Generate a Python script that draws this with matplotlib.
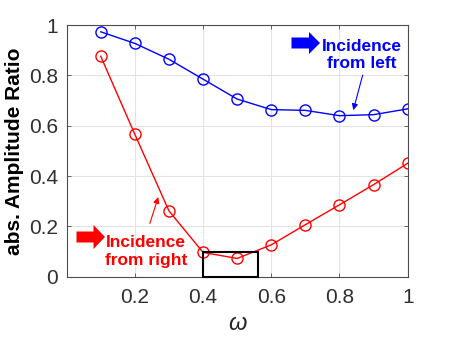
import numpy as np
import matplotlib.pyplot as plt
from matplotlib.patches import Rectangle, Polygon

plt.rcParams['font.family'] = ['Liberation Sans', 'DejaVu Sans']

omega = [0.1, 0.2, 0.3, 0.4, 0.5, 0.6, 0.7, 0.8, 0.9, 1.0]
ratio_left = [0.973, 0.927, 0.864, 0.785, 0.706, 0.664, 0.661, 0.640, 0.644, 0.667]
ratio_right = [0.876, 0.566, 0.262, 0.097, 0.073, 0.127, 0.207, 0.286, 0.366, 0.451]

xticks = [0.2, 0.4, 0.6, 0.8, 1.0]
xticklabels = ['0.2', '0.4', '0.6', '0.8', '1']
yticks = [0, 0.2, 0.4, 0.6, 0.8, 1.0]
yticklabels = ['0', '0.2', '0.4', '0.6', '0.8', '1']


def block_arrow(fig, x0, x1, yc, shaft, head, headlen, color):
    # grube strzałki przy podpisach, w pikselach figury
    W, H = fig.get_size_inches() * fig.dpi
    xh = x1 - headlen
    pts = [(x0, yc - shaft), (xh, yc - shaft), (xh, yc - head), (x1, yc),
           (xh, yc + head), (xh, yc + shaft), (x0, yc + shaft)]
    pts = [(x / W, 1 - y / H) for x, y in pts]
    fig.patches.append(Polygon(pts, closed=True, transform=fig.transFigure,
                               facecolor=color, edgecolor='none'))


fig = plt.figure(figsize=(4.5, 3.38), dpi=100)
ax = fig.add_axes([0.148, 0.181, 0.758, 0.745])

ax.plot(omega, ratio_left, 'o-', color='blue', lw=1.0, ms=8,
        mfc='none', mew=1.0)
ax.plot(omega, ratio_right, 'o-', color='red', lw=1.0, ms=8,
        mfc='none', mew=1.0)

ax.add_patch(Rectangle((0.4, 0), 0.16, 0.1, fill=False, edgecolor='black',
                       lw=1.5, zorder=5, clip_on=False))

ax.set_xlim(0, 1)
ax.set_ylim(0, 1)
ax.set_xticks(xticks)
ax.set_xticklabels(xticklabels)
ax.set_yticks(yticks)
ax.set_yticklabels(yticklabels)
ax.tick_params(direction='in', length=3, width=0.6, colors='#4d4d4d',
               labelcolor='#303030', labelsize=15, top=True, right=True)
ax.tick_params(axis='x', pad=8)
ax.tick_params(axis='y', pad=6)
for s in ax.spines.values():
    s.set_color('#4d4d4d')
    s.set_linewidth(0.8)
ax.grid(True, color='#e3e3e3', lw=0.8)
ax.set_axisbelow(True)

ax.set_ylabel('abs. Amplitude Ratio', fontsize=15, fontweight='bold',
              labelpad=4)
ax.set_xlabel('ω', fontsize=17, fontstyle='italic', labelpad=4,
              color='#262626')

# podpisy i strzałki
ax.text(0.865, 0.88, 'Incidence\nfrom left', color='blue', fontsize=12.5,
        fontweight='bold', ha='center', va='center', multialignment='center')
ax.annotate('', xy=(0.8405, 0.662), xytext=(0.868, 0.801),
            arrowprops=dict(arrowstyle='-|>', color='blue', lw=0.8,
                            mutation_scale=9, shrinkA=0, shrinkB=0))
ax.text(0.2325, 0.10, 'Incidence\nfrom right', color='red', fontsize=12.5,
        fontweight='bold', ha='center', va='center', multialignment='center')
ax.annotate('', xy=(0.2687, 0.317), xytext=(0.244, 0.212),
            arrowprops=dict(arrowstyle='-|>', color='red', lw=0.8,
                            mutation_scale=9, shrinkA=0, shrinkB=0))

block_arrow(fig, 291.5, 320, 43, 5.5, 11, 11, 'blue')
block_arrow(fig, 76.5, 105, 237, 5.5, 12, 11.5, 'red')

fig.savefig('out.png', dpi=100)
